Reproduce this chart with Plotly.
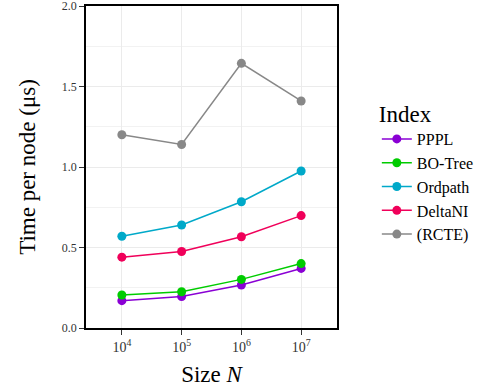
import plotly.graph_objects as go

sizes = [1e4, 1e5, 1e6, 1e7]
series_names = ["PPPL", "BO-Tree", "Ordpath", "DeltaNI", "(RCTE)"]
pppl = [0.17, 0.195, 0.267, 0.37]
botree = [0.205, 0.225, 0.302, 0.40]
ordpath = [0.57, 0.64, 0.784, 0.975]
deltani = [0.44, 0.475, 0.567, 0.698]
rcte = [1.20, 1.14, 1.644, 1.41]
colors = ["#8A00D4", "#00CC00", "#00A9C9", "#F0005A", "#888888"]
x_ticktext = ["10<sup>4</sup>", "10<sup>5</sup>", "10<sup>6</sup>", "10<sup>7</sup>"]
y_tickvals = [0, 0.5, 1.0, 1.5, 2.0]
y_ticktext = ["0.0", "0.5", "1.0", "1.5", "2.0"]

FONT = "Liberation Serif"

fig = go.Figure()
for name, vals, c in zip(series_names, [pppl, botree, ordpath, deltani, rcte], colors):
    fig.add_trace(go.Scatter(x=sizes, y=vals, name=name, mode="lines+markers",
                             line=dict(color=c, width=1.5),
                             marker=dict(color=c, size=9)))

fig.update_layout(
    width=477, height=392,
    margin=dict(l=86, r=140, t=6, b=64, autoexpand=False),
    paper_bgcolor="white", plot_bgcolor="white",
    font=dict(family=FONT, color="black"),
    legend=dict(title=dict(text="Index", font=dict(size=23, family=FONT)),
                font=dict(size=16, family=FONT),
                xref="container", yref="container",
                x=0.79, y=0.765, xanchor="left", yanchor="top",
                tracegroupgap=0, itemwidth=30),
    xaxis=dict(type="log", range=[3.4, 7.6], tickvals=sizes, ticktext=x_ticktext,
               showgrid=True, gridcolor="#EBEBEB", gridwidth=1,
               showline=True, linecolor="black", linewidth=1.6, mirror=True,
               ticks="outside", ticklen=5, tickcolor="#333333",
               tickfont=dict(size=14, family=FONT, color="#333333"),
               title=dict(text="Size <i>N</i>", font=dict(size=23, family=FONT), standoff=12),
               zeroline=False, automargin=False),
    yaxis=dict(range=[0, 2], tickvals=y_tickvals, ticktext=y_ticktext,
               showgrid=True, gridcolor="#EBEBEB", gridwidth=1,
               minor=dict(dtick=0.25, showgrid=True, gridcolor="#F2F2F2", gridwidth=1),
               showline=True, linecolor="black", linewidth=1.6, mirror=True,
               ticks="outside", ticklen=5, tickcolor="#333333",
               tickfont=dict(size=12, family=FONT, color="#333333"),
               ticklabeloverflow="allow",
               title=dict(text="Time per node (μs)", font=dict(size=23, family=FONT), standoff=20),
               zeroline=False, automargin=False),
)

fig.write_html("out.html")
